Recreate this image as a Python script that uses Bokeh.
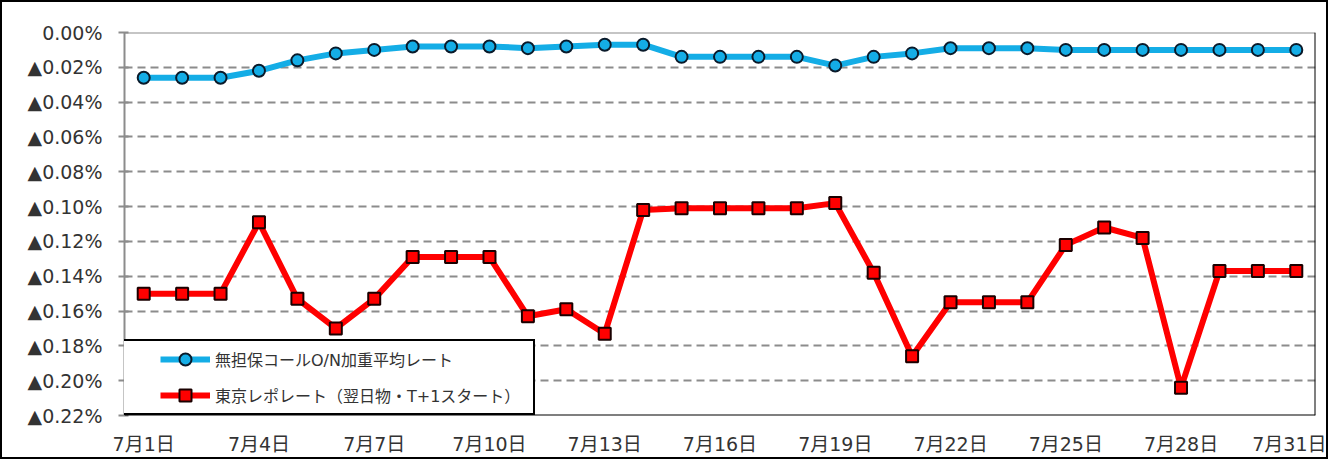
from bokeh.plotting import figure
from bokeh.layouts import column
from bokeh.models import FixedTicker, Span, Legend, LegendItem, ColumnDataSource, Range1d
from bokeh.embed import file_html
from bokeh.resources import INLINE

# ---- data ----
dates = ["7月1日", "7月2日", "7月3日", "7月4日", "7月5日", "7月6日", "7月7日", "7月8日",
         "7月9日", "7月10日", "7月11日", "7月12日", "7月13日", "7月14日", "7月15日",
         "7月16日", "7月17日", "7月18日", "7月19日", "7月20日", "7月21日", "7月22日",
         "7月23日", "7月24日", "7月25日", "7月26日", "7月27日", "7月28日", "7月29日",
         "7月30日", "7月31日"]
x_pos = list(range(1, 32))
call_rate = [-0.026, -0.026, -0.026, -0.022, -0.016, -0.012, -0.010, -0.008, -0.008, -0.008,
             -0.009, -0.008, -0.007, -0.007, -0.014, -0.014, -0.014, -0.014, -0.019, -0.014,
             -0.012, -0.009, -0.009, -0.009, -0.010, -0.010, -0.010, -0.010, -0.010, -0.010,
             -0.010]
repo_rate = [-0.150, -0.150, -0.150, -0.109, -0.153, -0.170, -0.153, -0.129, -0.129, -0.129,
             -0.163, -0.159, -0.173, -0.102, -0.101, -0.101, -0.101, -0.101, -0.098, -0.138,
             -0.186, -0.155, -0.155, -0.155, -0.122, -0.112, -0.118, -0.204, -0.137, -0.137,
             -0.137]
series_names = ["無担保コールO/N加重平均レート", "東京レポレート（翌日物・T+1スタート）"]
y_ticks = [0.0, -0.02, -0.04, -0.06, -0.08, -0.10, -0.12, -0.14, -0.16, -0.18, -0.20, -0.22]
y_tick_labels = ["0.00%", "▲0.02%", "▲0.04%", "▲0.06%", "▲0.08%", "▲0.10%", "▲0.12%",
                 "▲0.14%", "▲0.16%", "▲0.18%", "▲0.20%", "▲0.22%"]
x_ticks = [1, 4, 7, 10, 13, 16, 19, 22, 25, 28, 31]

FONT = "'DejaVu Sans', 'Noto Sans CJK JP'"
GRAY = "#8c8c8c"
TXT = "#333333"

src = ColumnDataSource(dict(x=x_pos, call=call_rate, repo=repo_rate, d=dates))

p = figure(width=1324, height=455, output_backend="svg", toolbar_location=None,
           x_range=Range1d(0.5, 31.5), y_range=Range1d(-0.22, 0.0),
           min_border_left=122, min_border_right=11, min_border_top=30, min_border_bottom=40)
p.outline_line_color = None
p.background_fill_color = "white"
p.border_fill_color = "white"

# y axis
p.yaxis.ticker = FixedTicker(ticks=y_ticks)
p.yaxis.major_label_overrides = {t: l for t, l in zip(y_ticks, y_tick_labels)}
p.yaxis.major_label_text_font = FONT
p.yaxis.major_label_text_font_size = "19px"
p.yaxis.major_label_text_color = TXT
p.yaxis.axis_line_color = GRAY
p.yaxis.axis_line_width = 2
p.yaxis.major_tick_line_color = GRAY
p.yaxis.major_tick_line_width = 2
p.yaxis.major_tick_out = 6
p.yaxis.major_tick_in = 4
p.yaxis.minor_tick_line_color = None
p.yaxis.major_label_standoff = 16

# x axis
p.xaxis.ticker = FixedTicker(ticks=x_ticks)
p.xaxis.major_label_overrides = {t: dates[t - 1] for t in x_ticks}
p.xaxis.major_label_text_font = FONT
p.xaxis.major_label_text_font_size = "19px"
p.xaxis.major_label_text_color = TXT
p.xaxis.axis_line_color = None
p.xaxis.major_tick_line_color = None
p.xaxis.minor_tick_line_color = None
p.xaxis.major_label_standoff = 11

# grid
p.xgrid.grid_line_color = None
p.ygrid.ticker = FixedTicker(ticks=y_ticks)
p.ygrid.grid_line_color = GRAY
p.ygrid.grid_line_width = 2
p.ygrid.grid_line_dash = "8 5"

# frame lines
p.add_layout(Span(location=0.0, dimension="width", line_color=GRAY, line_width=2))
p.add_layout(Span(location=31.5, dimension="height", line_color="#000000", line_width=2))
p.add_layout(Span(location=-0.22, dimension="width", line_color="#000000", line_width=2))

# series
BLUE = "#14ade6"
RED = "#ff0000"
l1 = p.line("x", "call", source=src, line_color=BLUE, line_width=6)
m1 = p.scatter("x", "call", source=src, marker="circle", size=12, fill_color=BLUE,
               line_color="#0a1a2a", line_width=2)
l2 = p.line("x", "repo", source=src, line_color=RED, line_width=6)
m2 = p.scatter("x", "repo", source=src, marker="square", size=12, fill_color=RED,
               line_color="#1a0000", line_width=2)

legend = Legend(items=[LegendItem(label=series_names[0], renderers=[l1, m1]),
                       LegendItem(label=series_names[1], renderers=[l2, m2])],
                location=(-2, 0), orientation="vertical",
                glyph_width=50, glyph_height=30, label_height=30, spacing=6,
                padding=3, margin=0, label_standoff=5, label_width=315,
                label_text_font=FONT, label_text_font_size="16px", label_text_color=TXT,
                border_line_color="#000000", border_line_width=2, border_line_alpha=1.0,
                background_fill_color="white", background_fill_alpha=1.0,
                title=" ", title_location="left", title_text_font_size="8px",
                title_standoff=24)
p.add_layout(legend)

page = column(p, styles={"border": "2px solid #000000"})

open("out.html", "w").write(file_html(page, INLINE))
